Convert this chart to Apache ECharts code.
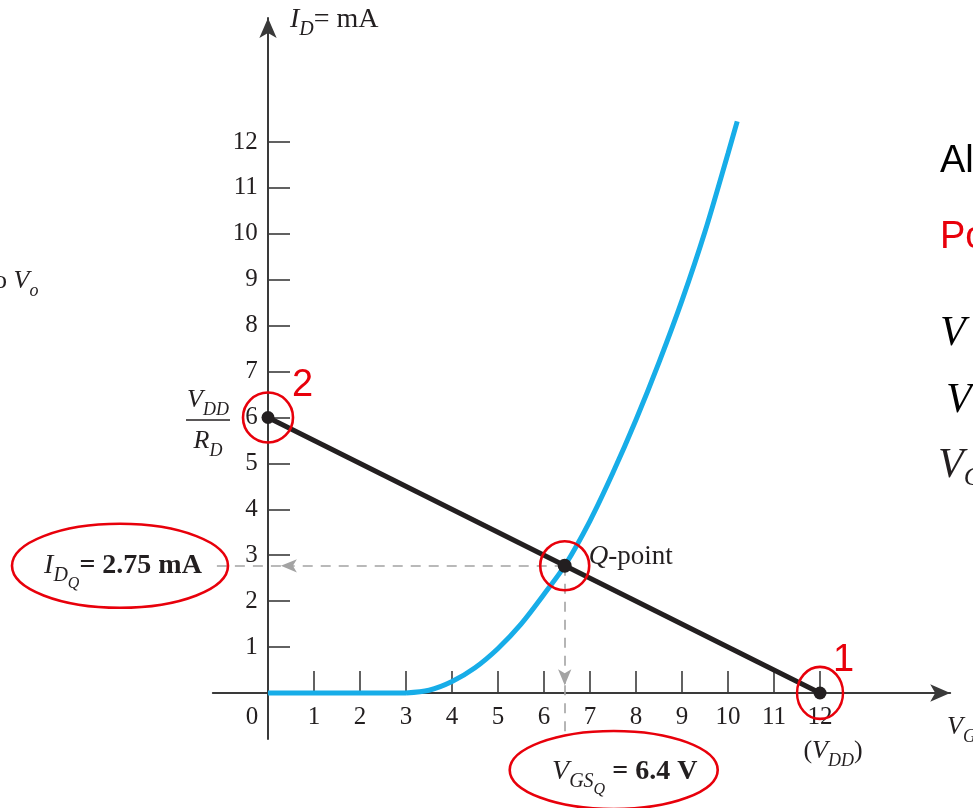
<!DOCTYPE html>
<html><head><meta charset="utf-8">
<script src="https://cdn.jsdelivr.net/npm/echarts@6/dist/echarts.min.js"></script>
<style>html,body{margin:0;padding:0;background:#fff;}#c{width:973px;height:808px;}</style>
</head><body><div id="c"></div>
<script>
// ---- data ----
const xTickValues = [0,1,2,3,4,5,6,7,8,9,10,11,12];
const yTickValues = [1,2,3,4,5,6,7,8,9,10,11,12];
const cutoffX = [0, 3];
const cutoffY = [0, 0];
const transferX = [3, 3.5, 4, 4.5, 5, 5.5, 6, 6.45, 7, 7.5, 8, 8.5, 9, 9.5, 10, 10.2];
const transferY = [0, 0.06, 0.25, 0.55, 0.97, 1.5, 2.15, 2.77, 3.75, 4.8, 5.95, 7.2, 8.55, 10.05, 11.75, 12.45];
const loadLineX = [0, 12];
const loadLineY = [6, 0];
const qPointX = 6.45;
const qPointY = 2.77;
const idqText = '= 2.75 mA';
const vgsqText = ' = 6.4 V';

const SERIF = '"Liberation Serif","DejaVu Serif",serif';
const SANS = '"Liberation Sans",Arial,sans-serif';
const AXIS = '#3a3a3a';
const TXT = '#231f20';
const BLUE = '#17ade8';
const BLACK = '#231f20';
const RED = '#e8000b';
const GRAY = '#a3a3a3';

const GRID_LEFT = 212.8, GRID_BOTTOM = 69.1;
const pair = (xs, ys) => xs.map((x, i) => [x, ys[i]]);
const chart = echarts.init(document.getElementById('c'), null, {renderer: 'canvas'});

const option = {
  animation: false,
  grid: {left: GRID_LEFT, right: 22.8, top: 18, bottom: GRID_BOTTOM},
  xAxis: {
    type: 'value', min: -1.2, max: 14.83,
    axisLine: {show: true, onZero: true, symbol: ['none', 'arrow'], symbolSize: [13, 20],
      lineStyle: {color: AXIS, width: 2}},
    axisTick: {show: true, inside: true, length: 22, customValues: xTickValues.filter(v => v !== 0),
      lineStyle: {color: AXIS, width: 1.6}},
    axisLabel: {show: true, customValues: xTickValues, margin: -34, color: TXT, fontFamily: SERIF, fontSize: 25,
      formatter: v => v === 0 ? '{z|0}' : String(v),
      rich: {z: {padding: [0, 32, 0, 0], fontFamily: SERIF, fontSize: 25, color: TXT}}},
    splitLine: {show: false}
  },
  yAxis: {
    type: 'value', min: -1.0, max: 14.7,
    axisLine: {show: true, onZero: true, symbol: ['none', 'arrow'], symbolSize: [13, 20],
      lineStyle: {color: AXIS, width: 2}},
    axisTick: {show: true, inside: true, length: 22, customValues: yTickValues,
      lineStyle: {color: AXIS, width: 1.6}},
    axisLabel: {show: true, customValues: yTickValues, margin: -45, color: TXT, fontFamily: SERIF, fontSize: 25},
    splitLine: {show: false}
  },
  series: [
    {type: 'line', name: 'cutoff', data: pair(cutoffX, cutoffY), symbol: 'none',
      lineStyle: {color: BLUE, width: 5}, z: 3, silent: true},
    {type: 'line', name: 'transfer', data: pair(transferX, transferY), smooth: 0.3, symbol: 'none',
      lineStyle: {color: BLUE, width: 5}, z: 3, silent: true},
    {type: 'line', name: 'load', data: pair(loadLineX, loadLineY), symbol: 'circle', symbolSize: 13,
      showSymbol: true, itemStyle: {color: BLACK}, lineStyle: {color: BLACK, width: 5}, z: 4, silent: true},
    {type: 'scatter', name: 'Q', data: [[qPointX, qPointY]], symbolSize: 14, itemStyle: {color: BLACK, opacity: 1},
      z: 5, clip: false, silent: true,
      markLine: {
        silent: true, symbol: ['none', 'none'], label: {show: false}, animation: false,
        lineStyle: {color: GRAY, type: [10, 8], width: 1.6},
        emphasis: {disabled: true},
        data: [
          [{coord: [qPointX, qPointY], symbol: 'none'}, {coord: [0.28, qPointY], symbol: 'arrow', symbolSize: [10, 16]}],
          [{coord: [0.28, qPointY], symbol: 'none'}, {coord: [-1.2, qPointY], symbol: 'none'}],
          [{coord: [qPointX, qPointY], symbol: 'none'}, {coord: [qPointX, 0.17], symbol: 'arrow', symbolSize: [10, 16]}],
          [{coord: [qPointX, 0.17], symbol: 'none'}, {coord: [qPointX, -1.0], symbol: 'none'}]
        ]
      }},
    {type: 'scatter', name: 'rings', clip: false, silent: true, z: 6,
      data: [
        {value: [loadLineX[0], loadLineY[0]], symbolSize: 50},
        {value: [qPointX, qPointY], symbolSize: 49},
        {value: [loadLineX[1], loadLineY[1]], symbolSize: [46, 52]}
      ],
      itemStyle: {color: 'rgba(0,0,0,0)', borderColor: RED, borderWidth: 2.6, opacity: 1}}
  ]
};
chart.setOption(option);

// ---- annotations anchored to data positions ----
const px = v => chart.convertToPixel({seriesIndex: 2}, v);
const O = px([0, 0]);
const P2 = px([loadLineX[0], loadLineY[0]]);
const P1 = px([loadLineX[1], loadLineY[1]]);
const PQ = px([qPointX, qPointY]);

const rich = {
  it: {fontFamily: SERIF, fontStyle: 'italic', fontSize: 26, color: TXT},
  rm: {fontFamily: SERIF, fontSize: 26, color: TXT},
  sub: {fontFamily: SERIF, fontStyle: 'italic', fontSize: 18, color: TXT, padding: [20, 0, 0, 0]},
  subsub: {fontFamily: SERIF, fontStyle: 'italic', fontSize: 14, color: TXT, padding: [36, 0, 0, 0]},
  it2: {fontFamily: SERIF, fontStyle: 'italic', fontSize: 28, color: TXT},
  sub2: {fontFamily: SERIF, fontStyle: 'italic', fontSize: 20, color: TXT, padding: [20, 0, 0, 0]},
  subsub2: {fontFamily: SERIF, fontStyle: 'italic', fontSize: 16, color: TXT, padding: [36, 0, 0, 0]},
  rmt: {fontFamily: SERIF, fontSize: 28, color: TXT},
  b: {fontFamily: SERIF, fontWeight: 'bold', fontSize: 28, color: TXT},
  itq: {fontFamily: SERIF, fontStyle: 'italic', fontSize: 27, color: TXT},
  rmq: {fontFamily: SERIF, fontSize: 27, color: TXT},
  big: {fontFamily: SERIF, fontStyle: 'italic', fontSize: 42, color: '#000'},
  bsub: {fontFamily: SERIF, fontStyle: 'italic', fontSize: 26, color: '#000', padding: [24, 0, 0, 0]}
};
function txt(x, y, text, align) {
  return {type: 'text', x: x, y: y, silent: true, z: 20,
    style: {text: text, rich: rich, align: align || 'left', verticalAlign: 'middle',
      textAlign: align || 'left', textVerticalAlign: 'middle',
      fontFamily: SERIF, fontSize: 26, fill: TXT}};
}
function plain(x, y, text, font, size, color, style) {
  return {type: 'text', x: x, y: y, silent: true, z: 20,
    style: {text: text, fontFamily: font, fontSize: size, fill: color, fontStyle: style || 'normal',
      align: 'left', verticalAlign: 'middle', textAlign: 'left', textVerticalAlign: 'middle'}};
}

const graphics = [
  txt(O[0] + 22, 20, '{it2|I}{sub2|D}{rmt|= mA}'),
  txt(P2[0] - 60, P2[1] - 17, '{it|V}{sub|DD}', 'center'),
  {type: 'line', silent: true, z: 20, shape: {x1: P2[0] - 82, y1: P2[1] + 2.5, x2: P2[0] - 38, y2: P2[1] + 2.5},
    style: {stroke: TXT, lineWidth: 1.5}},
  txt(P2[0] - 60, P2[1] + 24, '{it|R}{sub|D}', 'center'),
  plain(P2[0] + 24, P2[1] - 32, '2', SANS, 38, RED),
  plain(P1[0] + 13, P1[1] - 32, '1', SANS, 38, RED),
  txt(PQ[0] + 24, PQ[1] - 9, '{itq|Q}{rmq|-point}'),
  txt(O[0] - 145, PQ[1], '{it2|I}{sub2|D}{subsub2|Q}{b|' + idqText + '}', 'center'),
  {type: 'ellipse', silent: true, z: 20, shape: {cx: O[0] - 148, cy: PQ[1], rx: 108, ry: 42},
    style: {fill: 'none', stroke: RED, lineWidth: 2.6}},
  txt(PQ[0] + 60, O[1] + 79, '{it2|V}{sub2|GS}{subsub2|Q}{b|' + vgsqText + '}', 'center'),
  {type: 'ellipse', silent: true, z: 20, shape: {cx: PQ[0] + 49, cy: O[1] + 77, rx: 104, ry: 39},
    style: {fill: 'none', stroke: RED, lineWidth: 2.6}},
  txt(P1[0] + 13, P1[1] + 58, '{rm|(}{it|V}{sub|DD}{rm|)}', 'center'),
  txt(947, O[1] + 34, '{it|V}{sub|GS}'),
  plain(940, 162, 'Al', SANS, 38, '#000'),
  plain(940, 238, 'Po', SANS, 38, RED),
  plain(940, 334, 'V', SERIF, 42, '#000', 'italic'),
  plain(946, 401, 'V', SERIF, 42, '#000', 'italic'),
  txt(938, 466, '{big|V}{bsub|G}'),
  txt(-6, 281, '{rm|o }{it|V}{sub|o}')
];
chart.setOption({graphic: {elements: graphics}});
</script>
</body></html>
